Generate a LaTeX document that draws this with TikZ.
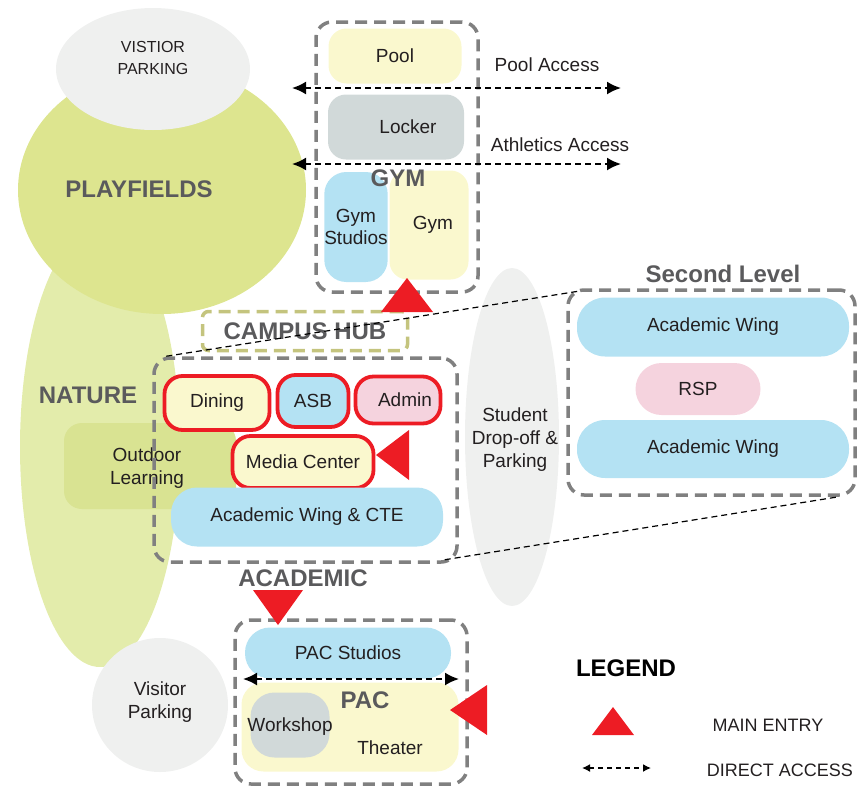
\documentclass[tikz,border=0pt]{standalone}
\usepackage{fontspec}
\setmainfont{Liberation Sans}
\usepackage{tikz}
\usetikzlibrary{arrows.meta,shapes.geometric}
\definecolor{ink}{RGB}{35,31,32}
\definecolor{titlegray}{RGB}{90,90,92}
\definecolor{boxgray}{RGB}{128,128,128}
\definecolor{entryred}{RGB}{237,28,36}
\definecolor{paleyellow}{RGB}{250,248,206}
\definecolor{paleblue}{RGB}{180,226,243}
\definecolor{palepink}{RGB}{245,211,222}
\definecolor{palegray}{RGB}{209,217,217}
\definecolor{parkgray}{RGB}{239,240,239}
\definecolor{fieldgreen}{RGB}{221,229,143}
\definecolor{naturegreen}{RGB}{227,236,171}
\definecolor{outdoorgreen}{RGB}{217,227,146}
\definecolor{hubolive}{RGB}{196,196,126}
\def\roomnode{\node[roombox]}
\def\zonenode{\node[zonetitle]}
\def\blobnode{\node[ellipse,inner sep=0pt]}
\def\drawaccess{\draw[accessline]}
\def\entryfill{\fill[entryred]}

\begin{document}
\begin{tikzpicture}[x=1pt,y=-1pt,
  roombox/.style={rounded corners=18pt,inner sep=0pt,align=center,text=ink,font=\fontsize{19}{22}\selectfont},
  plaintext/.style={align=center,text=ink,font=\fontsize{19}{23}\selectfont},
  zonetitle/.style={text=titlegray,font=\fontsize{24}{26}\selectfont\bfseries},
  wingbox/.style={draw=boxgray,line width=3.5pt,dash pattern=on 12pt off 7pt,rounded corners=16pt,inner sep=0pt},
  redring/.style={draw=entryred,line width=3.8pt},
  accessline/.style={line width=2pt,dash pattern=on 6pt off 4pt,{Latex[length=14pt,width=13pt]}-{Latex[length=14pt,width=13pt]}},
  linkline/.style={line width=1.2pt,dash pattern=on 6pt off 4pt}]
\useasboundingbox (0,0) rectangle (857,788);
\blobnode[fill=naturegreen,minimum width=160pt,minimum height=440pt] (nature) at (100,447) {};
\blobnode[fill=fieldgreen,minimum width=288pt,minimum height=248pt] (fields) at (162,190) {};
\blobnode[fill=parkgray,minimum width=194pt,minimum height=122pt] (vparktop) at (153,69) {};
\roomnode[fill=outdoorgreen,minimum width=172pt,minimum height=86pt] (outdoor) at (150,466) {};
\blobnode[fill=parkgray,minimum width=136pt,minimum height=134pt] (vparkbot) at (160,705) {};
\blobnode[fill=parkgray,minimum width=94pt,minimum height=338pt] (dropoff) at (512,437) {};

\node[plaintext,font=\fontsize{16}{22}\selectfont] (vparktoptext) at (153,58) {VISTIOR\\PARKING};
\zonenode (fieldstext) at (139,189) {PLAYFIELDS};
\zonenode (naturetext) at (88,395) {NATURE};
\node[plaintext] (outdoortext) at (147,468) {Outdoor\\Learning};
\node[plaintext] (vparkbottext) at (160,702) {Visitor\\Parking};
\node[plaintext] (dropofftext) at (515,440) {Student\\Drop-off \&\\Parking};

\node[wingbox,minimum width=162pt,minimum height=270pt] (gym) at (397,157) {};
\roomnode[fill=paleyellow,minimum width=133pt,minimum height=55pt] (pool) at (395,56) {Pool};
\roomnode[fill=palegray,minimum width=136pt,minimum height=65pt] (locker) at (396,127) {\hspace*{24pt}Locker};
\roomnode[fill=paleblue,rounded corners=22pt,minimum width=56pt,minimum height=110pt] (gymstudios) at (356,227) {Gym\\Studios};
\roomnode[fill=paleyellow,minimum width=79pt,minimum height=109pt] (gymhall) at (429,225) {\hspace*{8pt}Gym};
\zonenode (gymtext) at (398,178) {GYM};

\node[wingbox,draw=hubolive,rounded corners=6pt,minimum width=205pt,minimum height=39pt,zonetitle] (hub) at (305,331) {CAMPUS HUB};

\node[wingbox,minimum width=303pt,minimum height=204pt] (academic) at (305.5,460) {};
\roomnode[redring,fill=paleyellow,minimum width=105pt,minimum height=54pt] (dining) at (217,403) {Dining};
\roomnode[redring,fill=paleblue,minimum width=71pt,minimum height=52pt] (asb) at (313,401) {ASB};
\roomnode[redring,fill=palepink,minimum width=85pt,minimum height=47pt] (admin) at (398,400) {\hspace*{14pt}Admin};
\roomnode[redring,fill=paleyellow,minimum width=141pt,minimum height=52pt] (media) at (303,462) {Media Center};
\roomnode[fill=paleblue,rounded corners=26pt,minimum width=272pt,minimum height=59pt] (wingcte) at (307,517) {Academic Wing \& CTE};
\zonenode (academictext) at (303,578) {ACADEMIC};

\zonenode (secondtext) at (723,274) {Second Level};
\node[wingbox,minimum width=287pt,minimum height=205pt] (second) at (711.5,392.5) {};
\roomnode[fill=paleblue,rounded corners=28pt,minimum width=272pt,minimum height=59pt] (wingup) at (713,327) {Academic Wing};
\roomnode[fill=palepink,rounded corners=26pt,minimum width=125pt,minimum height=52pt] (rsp) at (698,389) {RSP};
\roomnode[fill=paleblue,rounded corners=28pt,minimum width=272pt,minimum height=58pt] (winglow) at (713,449) {Academic Wing};

\node[wingbox,minimum width=232pt,minimum height=164pt] (pac) at (351,702) {};
\roomnode[fill=paleblue,rounded corners=25pt,minimum width=206pt,minimum height=51pt] (pacstudios) at (348,653) {PAC Studios};
\roomnode[fill=paleyellow,rounded corners=22pt,minimum width=217pt,minimum height=89pt] (theater) at (350,727) {};
\roomnode[fill=palegray,rounded corners=24pt,minimum width=79pt,minimum height=65pt] (workshop) at (290,725) {};
\node[plaintext] (workshoptext) at (290,727) {Workshop};
\node[plaintext] (theatertext) at (390,748) {Theater};
\zonenode (pactext) at (365,700) {PAC};

\draw[linkline] ([xshift=14pt]academic.north west) -- ([xshift=12pt,yshift=-3pt]second.north west);
\draw[linkline] ([xshift=-14pt,yshift=4pt]academic.south east) -- ([xshift=-18pt]second.south east);

\coordinate (poolW) at (292,88);
\coordinate (poolE) at (621,88);
\coordinate (athW) at (292,164);
\coordinate (athE) at (621,164);
\coordinate (pacW) at (243,679);
\coordinate (pacE) at (459,679);
\drawaccess (poolW) -- (poolE);
\drawaccess (athW) -- (athE);
\drawaccess (pacW) -- (pacE);
\node[plaintext] (pooltext) at (547,65) {Pool Access};
\node[plaintext] (athtext) at (560,145) {Athletics Access};

\entryfill (407,278) -- (433,312) -- (381,312) -- cycle;
\entryfill (376,455) -- (409,430) -- (409,480) -- cycle;
\entryfill (278,625) -- (253,590) -- (303,590) -- cycle;
\entryfill (450,710) -- (487,685) -- (487,735) -- cycle;

\node[zonetitle,text=black] (legendtext) at (626,668) {LEGEND};
\entryfill (613,707) -- (634,735) -- (592,735) -- cycle;
\node[plaintext,font=\fontsize{18}{22}\selectfont] (entrytext) at (768,725) {MAIN ENTRY};
\coordinate (keyW) at (582,768);
\coordinate (keyE) at (651,768);
\draw[line width=1.5pt,dash pattern=on 5pt off 4pt,{Latex[length=8pt,width=8pt]}-{Latex[length=8pt,width=8pt]}] (keyW) -- (keyE);
\node[plaintext,font=\fontsize{18}{22}\selectfont] (accesstext) at (780,770) {DIRECT ACCESS};
\end{tikzpicture}
\end{document}
